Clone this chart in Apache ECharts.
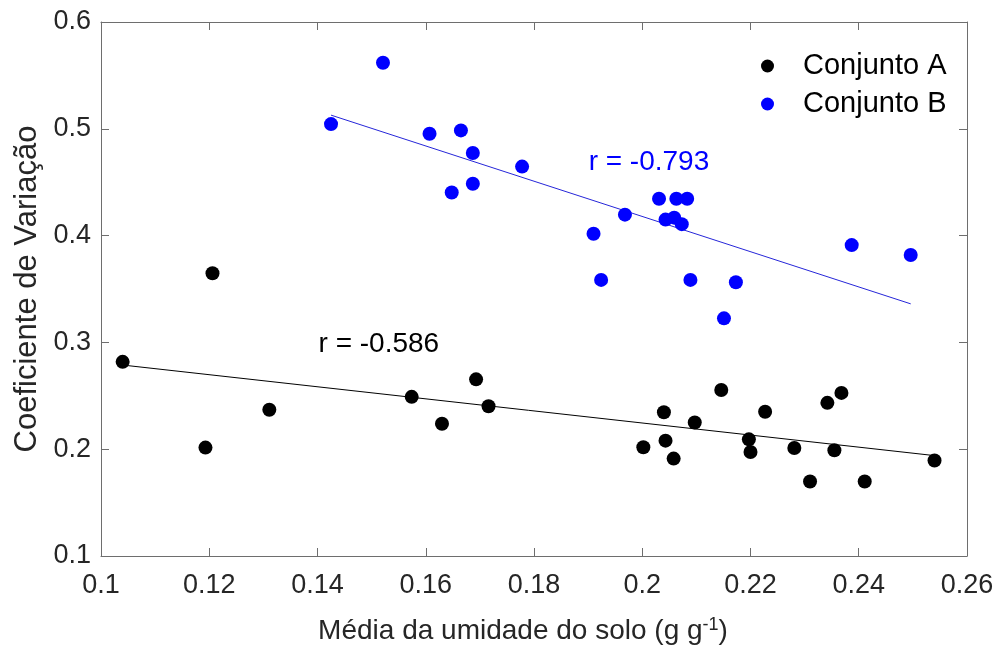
<!DOCTYPE html>
<html>
<head>
<meta charset="utf-8">
<script src="https://cdn.jsdelivr.net/npm/echarts@6/dist/echarts.min.js"></script>
<style>html,body{margin:0;padding:0;background:#fff;}#c{width:998px;height:650px;}</style>
</head>
<body>
<div id="c"></div>
<script>
// ---- data ----
var conjuntoA = [
  [0.1040, 0.2818], [0.1193, 0.2015], [0.1206, 0.3647], [0.1311, 0.2369],
  [0.1574, 0.2490], [0.1630, 0.2238], [0.1693, 0.2654], [0.1716, 0.2402],
  [0.2002, 0.2018], [0.2040, 0.2346], [0.2043, 0.2080], [0.2058, 0.1912],
  [0.2097, 0.2250], [0.2146, 0.2555], [0.2197, 0.2092], [0.2200, 0.1974],
  [0.2227, 0.2350], [0.2281, 0.2011], [0.2310, 0.1698], [0.2342, 0.2434],
  [0.2355, 0.1990], [0.2368, 0.2527], [0.2411, 0.1698], [0.2540, 0.1894]
];
var conjuntoB = [
  [0.1425, 0.5044], [0.1521, 0.5618], [0.1607, 0.4953], [0.1648, 0.4404],
  [0.1665, 0.4985], [0.1687, 0.4774], [0.1687, 0.4485], [0.1778, 0.4646],
  [0.1910, 0.4017], [0.1924, 0.3585], [0.1968, 0.4196], [0.2031, 0.4345],
  [0.2043, 0.4150], [0.2059, 0.4168], [0.2063, 0.4345], [0.2073, 0.4107],
  [0.2083, 0.4345], [0.2089, 0.3585], [0.2151, 0.3225], [0.2173, 0.3563],
  [0.2387, 0.3911], [0.2496, 0.3818]
];
var fitA = [[0.1040, 0.2788], [0.2540, 0.1940]];
var fitB = [[0.1425, 0.5128], [0.2496, 0.3361]];
var annotA = {text: 'r = -0.586', pos: [0.1401, 0.2980]};
var annotB = {text: 'r = -0.793', pos: [0.1900, 0.4687]};
var seriesNames = ['Conjunto A', 'Conjunto B'];
var xTicks = {min: 0.1, max: 0.26, interval: 0.02};
var yTicks = {min: 0.1, max: 0.6, interval: 0.1};

var FONT = '"Liberation Sans", Arial, Helvetica, sans-serif';
var AXC = '#6e6e6e';
var chart = echarts.init(document.getElementById('c'), null, {renderer: 'canvas'});

function baseX(pos, showLabel) {
  return {
    type: 'value', position: pos, min: xTicks.min, max: xTicks.max, interval: xTicks.interval,
    axisLine: {show: true, onZero: false, lineStyle: {color: AXC, width: 1}},
    axisTick: {show: true, inside: true, length: 8, lineStyle: {color: AXC}},
    axisLabel: {show: showLabel, margin: 16, color: '#262626', fontSize: 27, fontFamily: FONT,
      formatter: function (v) { return String(+v.toFixed(2)); }},
    splitLine: {show: false}
  };
}
function baseY(pos, showLabel) {
  return {
    type: 'value', position: pos, min: yTicks.min, max: yTicks.max, interval: yTicks.interval,
    axisLine: {show: true, onZero: false, lineStyle: {color: AXC, width: 1}},
    axisTick: {show: true, inside: true, length: 8, lineStyle: {color: AXC}},
    axisLabel: {show: showLabel, margin: 10, color: '#262626', fontSize: 27, fontFamily: FONT,
      formatter: function (v) { return String(+v.toFixed(1)); }},
    splitLine: {show: false}
  };
}
var x0 = baseX('bottom', true);
x0.name = 'Média da umidade do solo (g g{sup|-1})';
x0.nameLocation = 'middle';
x0.nameGap = 60;
x0.nameTextStyle = {color: '#262626', fontSize: 28, fontFamily: FONT, padding: [0, 22, 0, 0],
  rich: {sup: {fontSize: 18, fontFamily: FONT, color: '#262626', verticalAlign: 'top', padding: [0, 0, 12, 0]}}};
var y0 = baseY('left', true);
y0.name = 'Coeficiente de Variação';
y0.nameLocation = 'middle';
y0.nameGap = 56;
y0.nameTextStyle = {color: '#262626', fontSize: 31, fontFamily: FONT};

function annotSeries(a, color) {
  return {
    type: 'scatter', xAxisIndex: 0, yAxisIndex: 0, symbolSize: 1, silent: true,
    itemStyle: {color: 'rgba(0,0,0,0)', opacity: 1},
    data: [a.pos],
    label: {show: true, position: 'right', distance: 0, formatter: a.text, opacity: 1,
      color: color, fontSize: 28, fontFamily: FONT},
    z: 5
  };
}

chart.setOption({
  animation: false,
  backgroundColor: '#ffffff',
  grid: {left: 101, right: 31, top: 22, bottom: 91, containLabel: false},
  legend: {
    data: seriesNames, orient: 'vertical', left: 756, top: 46, itemGap: 8,
    icon: 'circle', itemWidth: 13, itemHeight: 13,
    textStyle: {color: '#000', fontSize: 29, fontFamily: FONT, padding: [0, 0, 0, 24], lineHeight: 30}
  },
  xAxis: [x0, baseX('top', false)],
  yAxis: [y0, baseY('right', false)],
  series: [
    {name: 'fitA', type: 'line', data: fitA, symbol: 'none', silent: true,
      lineStyle: {color: '#000000', width: 1}, z: 1},
    {name: 'fitB', type: 'line', data: fitB, symbol: 'none', silent: true,
      lineStyle: {color: '#2626d9', width: 1}, z: 1},
    {name: seriesNames[0], type: 'scatter', data: conjuntoA, symbol: 'circle', symbolSize: 14,
      itemStyle: {color: '#000000', opacity: 1}, z: 3},
    {name: seriesNames[1], type: 'scatter', data: conjuntoB, symbol: 'circle', symbolSize: 14,
      itemStyle: {color: '#0000ff', opacity: 1}, z: 3},
    annotSeries(annotA, '#000000'),
    annotSeries(annotB, '#0000ff')
  ]
});
</script>
</body>
</html>
